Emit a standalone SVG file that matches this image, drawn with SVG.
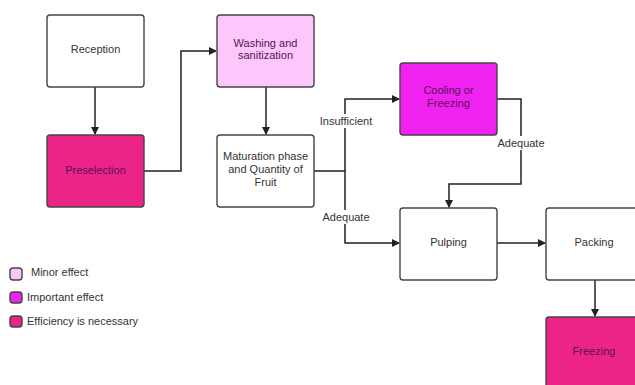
<svg xmlns="http://www.w3.org/2000/svg" width="635" height="385" viewBox="0 0 635 385">
<defs>
<marker id="arr" markerWidth="8" markerHeight="8" refX="7" refY="4" orient="auto" markerUnits="userSpaceOnUse">
<path d="M0,0 L8,4 L0,8 Z" fill="#222"/>
</marker>
<style>
.box{stroke:#444;stroke-width:1.4}
.t{font-family:"Liberation Sans",Arial,sans-serif;font-size:11px;fill:#333;text-anchor:middle}
.tp{font-family:"Liberation Sans",Arial,sans-serif;font-size:11px;fill:#5a1058;text-anchor:middle}
.lbl{font-family:"Liberation Sans",Arial,sans-serif;font-size:11px;fill:#333;text-anchor:middle}
.leg{font-family:"Liberation Sans",Arial,sans-serif;font-size:11px;fill:#333}
.c{fill:none;stroke:#222;stroke-width:1.5}
.white{fill:#fff}
.minor{fill:#fcc8fc}
.imp{fill:#f022f0}
.eff{fill:#ec2488}
</style>
</defs>
<rect width="635" height="385" fill="#fff"/>
<g id="connectors">
<path class="c" d="M95,87 V134" marker-end="url(#arr)"/>
<path class="c" d="M266,87 V134" marker-end="url(#arr)"/>
<path class="c" d="M144,171 H181 V51 H216" marker-end="url(#arr)"/>
<path class="c" d="M314,171 H345 V99 H399" marker-end="url(#arr)"/>
<path class="c" d="M345,171 V243 H399" marker-end="url(#arr)"/>
<path class="c" d="M497,99 H521 V184 H449 V207" marker-end="url(#arr)"/>
<path class="c" d="M497,243 H545" marker-end="url(#arr)"/>
<path class="c" d="M595,280 V316" marker-end="url(#arr)"/>
<rect x="318" y="114" width="56" height="14" fill="#fff"/>
<text class="lbl" x="346" y="125">Insufficient</text>
<rect x="321" y="210" width="50" height="14" fill="#fff"/>
<text class="lbl" x="346" y="221">Adequate</text>
<rect x="496" y="136" width="50" height="14" fill="#fff"/>
<text class="lbl" x="521" y="147">Adequate</text>
</g>
<g id="reception"><rect class="box white" x="47" y="15" width="97" height="72" rx="3"/><text class="t" x="95.5" y="53">Reception</text></g>
<g id="preselection"><rect class="box eff" x="47" y="135" width="97" height="72" rx="3"/><text class="tp" x="95.5" y="174">Preselection</text></g>
<g id="washing"><rect class="box minor" x="217" y="15" width="97" height="72" rx="3"/><text class="tp" x="265.5" y="47">Washing and</text><text class="tp" x="265.5" y="59">sanitization</text></g>
<g id="maturation"><rect class="box white" x="217" y="135" width="97" height="72" rx="3"/><text class="t" x="265.5" y="160">Maturation phase</text><text class="t" x="265.5" y="173">and Quantity of</text><text class="t" x="265.5" y="186">Fruit</text></g>
<g id="cooling"><rect class="box imp" x="400" y="63" width="97" height="72" rx="3"/><text class="tp" x="448.5" y="94">Cooling or</text><text class="tp" x="448.5" y="107">Freezing</text></g>
<g id="pulping"><rect class="box white" x="400" y="208" width="97" height="72" rx="3"/><text class="t" x="448.5" y="246">Pulping</text></g>
<g id="packing"><rect class="box white" x="546" y="208" width="97" height="72" rx="3"/><text class="t" x="594" y="246">Packing</text></g>
<g id="freezing"><rect class="box eff" x="546" y="317" width="97" height="72" rx="3"/><text class="tp" x="594" y="355">Freezing</text></g>
<g id="legend">
<rect class="box minor" x="10" y="268" width="12" height="12" rx="3"/><text class="leg" x="31" y="276">Minor effect</text>
<rect class="box imp" x="10" y="292" width="12" height="11" rx="3"/><text class="leg" x="27" y="301">Important effect</text>
<rect class="box eff" x="10" y="316" width="12" height="11" rx="3"/><text class="leg" x="27" y="325">Efficiency is necessary</text>
</g>
</svg>
